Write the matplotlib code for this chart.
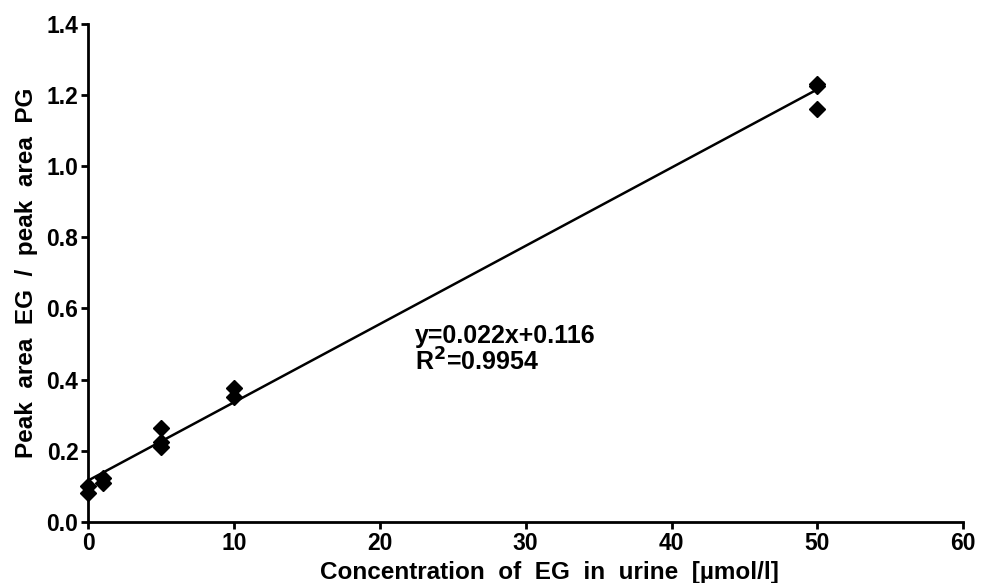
import numpy as np
import matplotlib.pyplot as plt

plt.rcParams['font.family'] = ['Liberation Sans', 'DejaVu Sans']

# measured calibration points
conc = [0, 0, 1, 1, 5, 5, 5, 10, 10, 50, 50, 50]
ratio = [0.10, 0.08, 0.124, 0.110, 0.265, 0.225, 0.211, 0.375, 0.352, 1.23, 1.225, 1.16]

slope = 0.022
intercept = 0.116
fit_x = [0, 50]

x_ticks = [0, 10, 20, 30, 40, 50, 60]
y_ticks = [0.0, 0.2, 0.4, 0.6, 0.8, 1.0, 1.2, 1.4]


def main():
    fig = plt.figure(figsize=(9.9, 5.83), dpi=100)
    ax = fig.add_axes([0.089, 0.105, 0.884, 0.854])

    fx = np.array(fit_x, dtype=float)
    ax.plot(fx, slope * fx + intercept, color='black', lw=1.8)
    ax.plot(conc, ratio, 'D', color='black', markersize=8, clip_on=False)

    ax.set_xlim(0, 60)
    ax.set_ylim(0, 1.4)
    ax.set_xticks(x_ticks)
    ax.set_yticks(y_ticks)
    ax.set_yticklabels([f'{v:.1f}' for v in y_ticks])

    for s in ['top', 'right']:
        ax.spines[s].set_visible(False)
    for s in ['left', 'bottom']:
        ax.spines[s].set_linewidth(2)
    ax.tick_params(width=2, length=5, labelsize=16.5, pad=2)
    for lab in ax.get_xticklabels() + ax.get_yticklabels():
        lab.set_fontweight('bold')

    ax.set_xlabel('Concentration  of  EG  in  urine  [µmol/l]', fontsize=17.5, fontweight='bold', labelpad=1)
    ax.xaxis.set_label_coords(0.527, -0.078)
    ax.set_ylabel('Peak  area  EG  /  peak  area  PG', fontsize=17.5, fontweight='bold', labelpad=6)

    ax.text(22.4, 0.555, 'y=0.022x+0.116\nR$^{\\mathbf{2}}$=0.9954', fontsize=18, fontweight='bold',
            va='top', ha='left', linespacing=1.0)

    fig.savefig('out.png', dpi=100)


if __name__ == '__main__':
    main()
